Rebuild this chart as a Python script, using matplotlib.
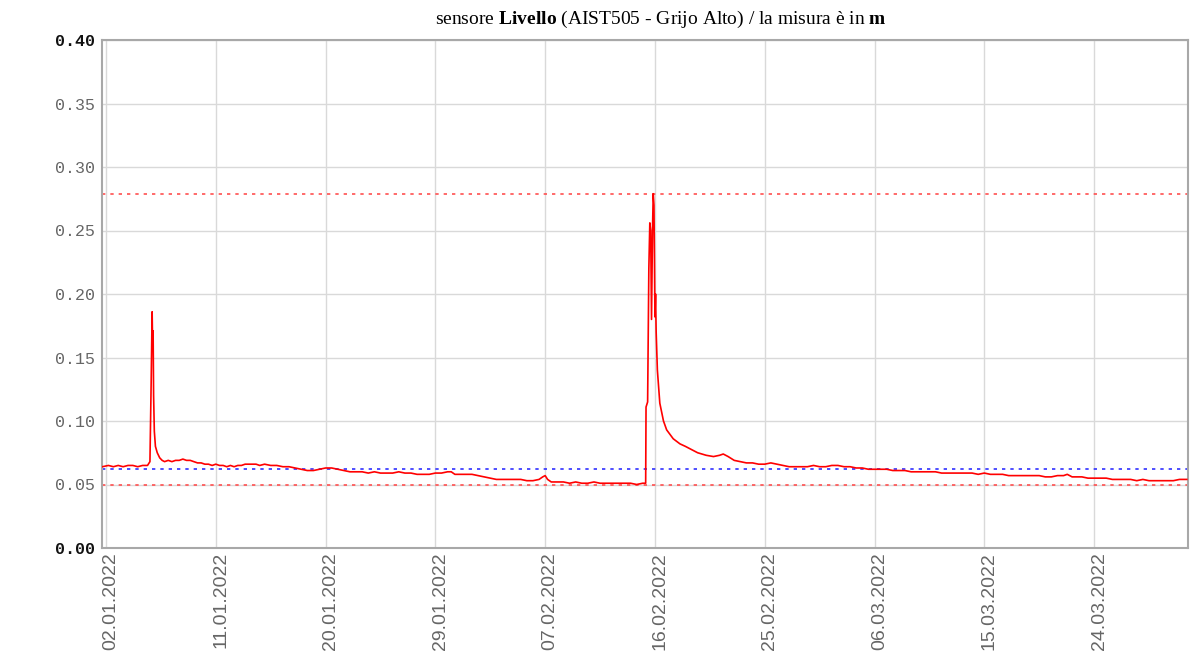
import datetime as dt
import matplotlib
matplotlib.use("Agg")
import matplotlib.pyplot as plt
import matplotlib.dates as mdates
import matplotlib.transforms as mtransforms

# Livello sensor readings: offset in days from 02.01.2022 00:00, level in m
day_offset = [
    -0.3, 0.2, 0.6, 1.0, 1.4, 1.8, 2.2, 2.6, 3.0, 3.4,
    3.6, 3.7, 3.78, 3.82, 3.86, 3.9, 3.96, 4.05, 4.2, 4.4, 4.6, 4.8, 5.1, 5.4,
    5.7, 6.0, 6.3, 6.6, 6.9, 7.2, 7.5, 7.8, 8.1, 8.4, 8.7, 9.0, 9.3, 9.6, 9.9,
    10.2, 10.5, 10.8, 11.1, 11.4, 11.7, 12.0, 12.3, 12.6,
    13.0, 13.5, 14.0, 14.5, 15.0, 15.5, 16.0, 16.5, 17.0, 17.5, 18.0, 18.5,
    19.0, 19.5, 20.0, 20.5, 21.0, 21.5, 22.0, 22.5, 23.0, 23.5, 24.0, 24.5,
    25.0, 25.5, 26.0, 26.5, 27.0, 27.5, 28.0, 28.3, 28.6, 29.0, 29.5, 30.0,
    30.5, 31.0, 31.5, 32.0, 32.5, 33.0, 33.5, 34.0, 34.5, 35.0, 35.5, 35.8,
    36.0, 36.2, 36.5, 37.0, 37.5, 38.0, 38.5, 39.0, 39.5, 40.0, 40.5, 41.0,
    41.5, 42.0, 42.5, 43.0, 43.5, 44.0, 44.24,
    44.27, 44.4, 44.5, 44.58, 44.65, 44.72, 44.8, 44.86, 44.92, 45.0, 45.05,
    45.1, 45.2, 45.4, 45.7, 45.96, 46.5, 47.05, 47.5, 47.9, 48.5, 49.2, 49.8,
    50.3, 50.6, 51.0, 51.5, 52.0, 52.5, 53.0, 53.5, 54.0, 54.5, 55.0, 55.5,
    56.0, 56.5, 57.0, 57.5, 58.0, 58.5, 59.0, 59.5, 60.0, 60.5, 61.0, 61.5,
    62.0, 62.5, 63.0, 63.5, 64.0, 64.5, 65.0, 65.5, 66.0, 66.5, 67.0, 67.5,
    68.0, 68.5, 69.0, 69.5, 70.0, 70.5, 71.0, 71.5, 72.0, 72.5, 73.0, 73.5,
    74.0, 74.5, 75.0, 75.5, 76.0, 76.5, 77.0, 77.5, 78.0, 78.5, 78.8, 79.2,
    79.6, 80.0, 80.5, 81.0, 81.5, 82.0, 82.5, 83.0, 83.5, 84.0, 84.5, 85.0,
    85.5, 86.0, 86.5, 87.0, 87.5, 88.0, 88.6,
]
level = [
    0.064, 0.065, 0.064, 0.065, 0.064, 0.065, 0.065, 0.064, 0.065, 0.065,
    0.068, 0.130, 0.186, 0.160, 0.171, 0.120, 0.092, 0.080, 0.075, 0.071, 0.069, 0.068, 0.069, 0.068,
    0.069, 0.069, 0.070, 0.069, 0.069, 0.068, 0.067, 0.067, 0.066, 0.066, 0.065, 0.066, 0.065, 0.065, 0.064,
    0.065, 0.064, 0.065, 0.065, 0.066, 0.066, 0.066, 0.066, 0.065,
    0.066, 0.065, 0.065, 0.064, 0.064, 0.063, 0.062, 0.061, 0.061, 0.062, 0.063, 0.063,
    0.062, 0.061, 0.060, 0.060, 0.060, 0.059, 0.060, 0.059, 0.059, 0.059, 0.060, 0.059,
    0.059, 0.058, 0.058, 0.058, 0.059, 0.059, 0.060, 0.060, 0.058, 0.058, 0.058, 0.058,
    0.057, 0.056, 0.055, 0.054, 0.054, 0.054, 0.054, 0.054, 0.053, 0.053, 0.054, 0.056,
    0.057, 0.054, 0.052, 0.052, 0.052, 0.051, 0.052, 0.051, 0.051, 0.052, 0.051, 0.051,
    0.051, 0.051, 0.051, 0.051, 0.050, 0.051, 0.051,
    0.111, 0.115, 0.220, 0.256, 0.250, 0.180, 0.250, 0.279, 0.270, 0.182, 0.200,
    0.170, 0.140, 0.114, 0.100, 0.093, 0.086, 0.082, 0.080, 0.078, 0.075, 0.073, 0.072,
    0.073, 0.074, 0.072, 0.069, 0.068, 0.067, 0.067, 0.066, 0.066, 0.067, 0.066, 0.065,
    0.064, 0.064, 0.064, 0.064, 0.065, 0.064, 0.064, 0.065, 0.065, 0.064, 0.064, 0.063,
    0.063, 0.062, 0.062, 0.062, 0.062, 0.061, 0.061, 0.061, 0.060, 0.060, 0.060, 0.060,
    0.060, 0.059, 0.059, 0.059, 0.059, 0.059, 0.059, 0.058, 0.059, 0.058, 0.058, 0.058,
    0.057, 0.057, 0.057, 0.057, 0.057, 0.057, 0.056, 0.056, 0.057, 0.057, 0.058, 0.056,
    0.056, 0.056, 0.055, 0.055, 0.055, 0.055, 0.054, 0.054, 0.054, 0.054, 0.053, 0.054,
    0.053, 0.053, 0.053, 0.053, 0.053, 0.054, 0.054,
]

level_max = 0.279
level_min = 0.0496
level_mean = 0.062

start = dt.datetime(2022, 1, 2)
times = [start + dt.timedelta(days=d) for d in day_offset]
tick_dates = [start + dt.timedelta(days=9 * i) for i in range(10)]
y_ticks = [0.00, 0.05, 0.10, 0.15, 0.20, 0.25, 0.30, 0.35, 0.40]

plt.rcParams['mathtext.fontset'] = 'custom'
plt.rcParams['mathtext.rm'] = 'Liberation Serif'
plt.rcParams['mathtext.bf'] = 'Liberation Serif:bold'

fig = plt.figure(figsize=(11.96, 6.57), dpi=100)
ax = fig.add_axes([102 / 1196, 1 - 548 / 657, 1086 / 1196, 508 / 657])

ax.plot(times, level, color='#ff0000', lw=1.2, zorder=3)
ax.axhline(level_max, color='#ff5050', lw=1.2, linestyle=(0, (2, 3)), zorder=2)
ax.axhline(level_min, color='#ff5050', lw=1.2, linestyle=(0, (2, 3)), zorder=2)
ax.axhline(level_mean, color='#3030ff', lw=1.2, linestyle=(0, (2, 3)), zorder=2)

ax.set_xlim(start - dt.timedelta(days=0.33), start + dt.timedelta(days=88.7))
ax.set_ylim(0, 0.40)
ax.set_xticks(tick_dates)
ax.xaxis.set_major_formatter(mdates.DateFormatter('%d.%m.%Y'))
ax.set_yticks(y_ticks)
ax.set_yticklabels(['%.2f' % v for v in y_ticks])

ax.grid(True, color='#d9d9d9', lw=1)
ax.set_axisbelow(True)
for side in ['left', 'bottom', 'top', 'right']:
    ax.spines[side].set_color('#a8a8a8')
    ax.spines[side].set_linewidth(1.5)

ax.tick_params(axis='both', length=0)
ax.tick_params(axis='y', pad=5, labelcolor='#666666')
ax.tick_params(axis='x', pad=3, labelcolor='#666666', rotation=90)
for lbl in ax.get_yticklabels():
    lbl.set_fontfamily('Liberation Mono')
    lbl.set_fontsize(12)
for lbl in (ax.get_yticklabels()[0], ax.get_yticklabels()[-1]):
    lbl.set_fontweight('bold')
    lbl.set_color('#111111')
# date labels sit a few pixels right of their grid line
shift = mtransforms.ScaledTranslation(5 / 100, 0, fig.dpi_scale_trans)
for lbl in ax.get_xticklabels():
    lbl.set_fontfamily('Liberation Sans')
    lbl.set_fontsize(14)
    lbl.set_transform(lbl.get_transform() + shift)

fig.text(661 / 1196, 1 - 19 / 657,
         r'sensore $\mathbf{Livello}$ (AIST505 - Grijo Alto) / la misura è in $\mathbf{m}$',
         ha='center', va='center', fontsize=14, family='Liberation Serif')

fig.savefig('out.png', dpi=100)
